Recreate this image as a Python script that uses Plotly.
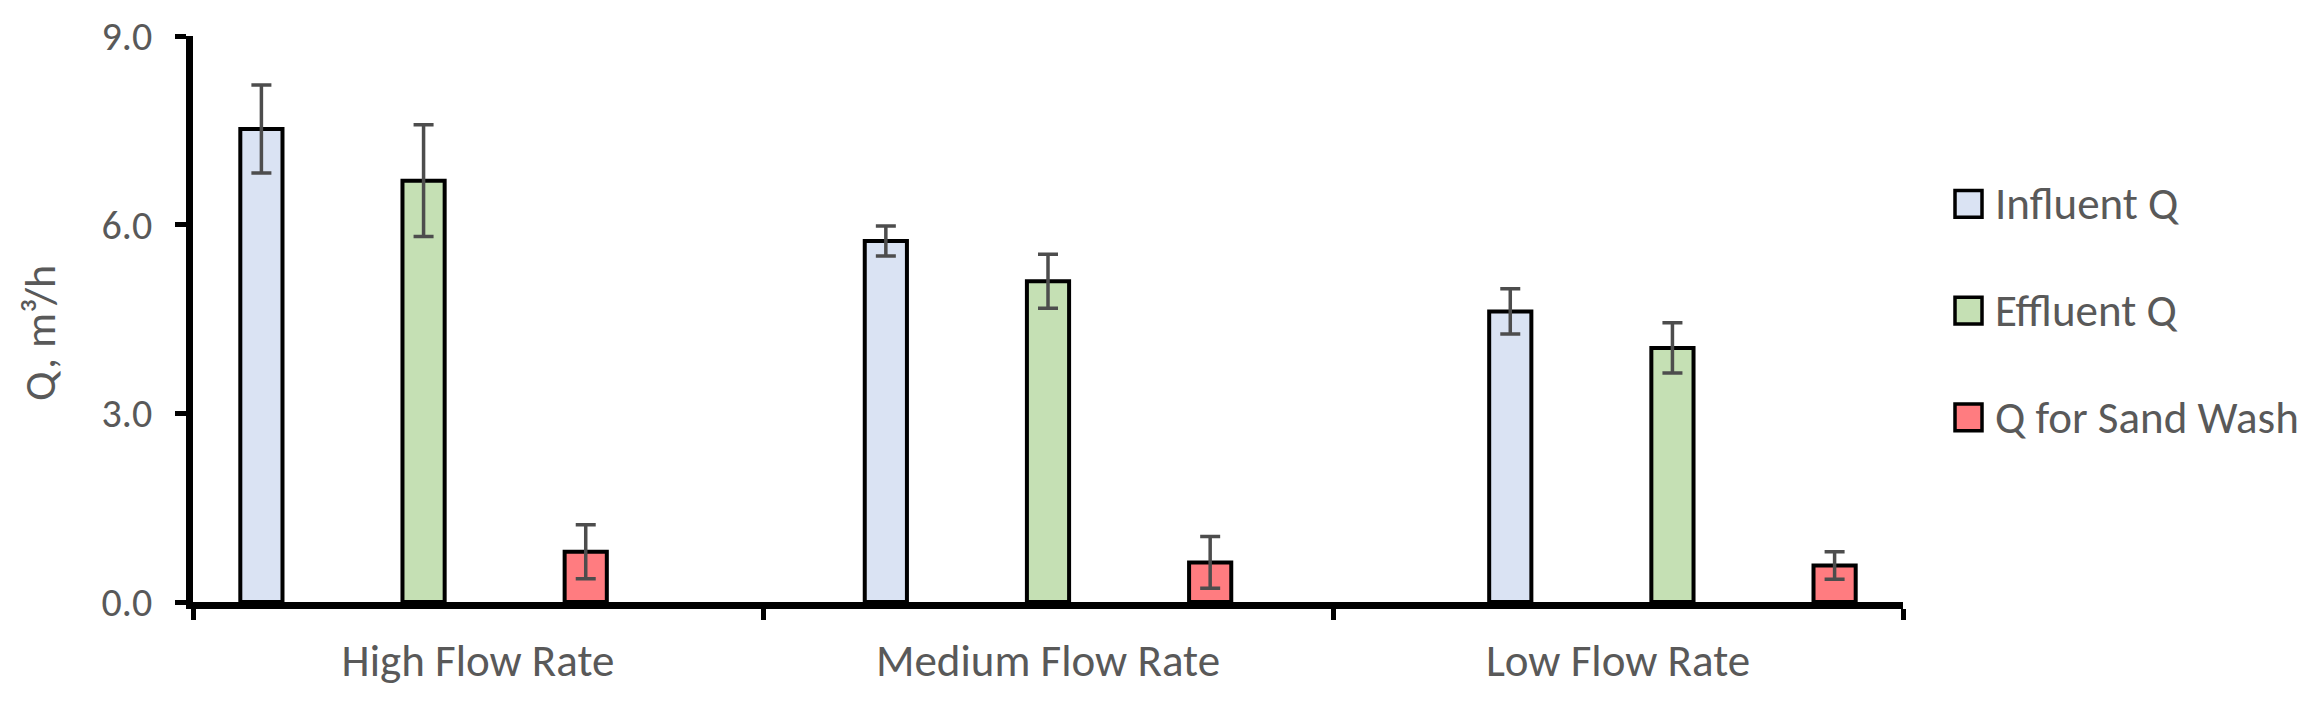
import plotly.graph_objects as go

# ---- data ----
categories = ["High Flow Rate", "Medium Flow Rate", "Low Flow Rate"]
series_names = ["Influent Q", "Effluent Q", "Q for Sand Wash"]
influent = [7.52, 5.74, 4.62]
influent_err = [0.70, 0.24, 0.36]
effluent = [6.70, 5.10, 4.04]
effluent_err = [0.89, 0.43, 0.40]
sand = [0.80, 0.63, 0.58]
sand_err = [0.43, 0.41, 0.22]
y_ticks = [0.0, 3.0, 6.0, 9.0]

values = [influent, effluent, sand]
errors = [influent_err, effluent_err, sand_err]
colors = ["#DAE3F3", "#C5E0B4", "#FF7C80"]

# ---- layout constants (pixels) ----
W, H = 2316, 704
L, R, T, B = 193, 2316 - 1903, 32, 704 - 602
FONT = "Carlito, Lato, Arial, sans-serif"
TXT = "#595959"
FS = 45
GROUP_STEP = 1.0955   # bar clusters are spread slightly wider than category slots
SLOT_STEP = 0.2845
BAR_W = 0.074

n = len(categories)
mid = (n - 1) / 2
fig = go.Figure()
for j, (name, vals, errs, col) in enumerate(zip(series_names, values, errors, colors)):
    xs = [mid + (g - mid) * GROUP_STEP + (j - 1) * SLOT_STEP for g in range(n)]
    fig.add_trace(go.Bar(
        x=xs, y=vals, name=name, width=BAR_W,
        marker=dict(color=col, line=dict(color="black", width=4)),
        error_y=dict(type="data", array=errs, visible=True,
                     color="#4D4D4D", thickness=3.5, width=10),
        showlegend=False,
    ))

# ---- custom legend (large square swatches) ----
pw = W - L - R
ph = H - T - B
def px_x(x):
    return (x - L) / pw
def px_y(y):
    return (H - B - y) / ph

leg_y = [201, 308.5, 416]
sw = 27
shapes = []
annotations = []
for name, col, yc in zip(series_names, colors, leg_y):
    shapes.append(dict(type="rect", xref="paper", yref="paper",
                       x0=px_x(1955), x1=px_x(1955 + sw),
                       y0=px_y(yc + sw / 2), y1=px_y(yc - sw / 2),
                       fillcolor=col, line=dict(color="black", width=3.5)))
    annotations.append(dict(xref="paper", yref="paper", x=px_x(1993), y=px_y(yc),
                            xanchor="left", yanchor="middle", showarrow=False,
                            text=name, font=dict(family=FONT, size=45, color=TXT)))

annotations.append(dict(xref="paper", yref="paper", x=px_x(40), y=px_y(331),
                        xanchor="center", yanchor="middle", showarrow=False,
                        textangle=-90, text="Q, m³/h",
                        font=dict(family=FONT, size=44, color=TXT)))

fig.update_layout(
    width=W, height=H,
    margin=dict(l=L, r=R, t=T, b=B, pad=0),
    paper_bgcolor="white", plot_bgcolor="white",
    barmode="overlay",
    shapes=shapes, annotations=annotations,
    font=dict(family=FONT, size=FS, color=TXT),
    xaxis=dict(
        range=[-0.5, n - 0.5],
        tickmode="array", tickvals=list(range(n)), ticktext=categories,
        ticks="", ticklen=0, ticklabelstandoff=13,
        showline=True, linecolor="black", linewidth=6.5,
        showgrid=False, zeroline=False,
        tickfont=dict(family=FONT, size=FS, color=TXT),
        minor=dict(tickmode="array", tickvals=[i - 0.5 for i in range(n + 1)],
                   ticks="outside", ticklen=11, tickwidth=5, tickcolor="black",
                   showgrid=False),
    ),
    yaxis=dict(
        range=[0, 9], tickmode="array", tickvals=y_ticks,
        tickformat=".1f",
        ticks="outside", ticklen=11, tickwidth=5, tickcolor="black",
        ticklabelstandoff=15,
        showline=True, linecolor="black", linewidth=6.5,
        showgrid=False, zeroline=False,
        tickfont=dict(family=FONT, size=40, color=TXT),
    ),
)

fig.write_html("out.html",
               config={"displayModeBar": False},
               post_script="document.body.style.margin='0';document.body.style.overflow='hidden';")
